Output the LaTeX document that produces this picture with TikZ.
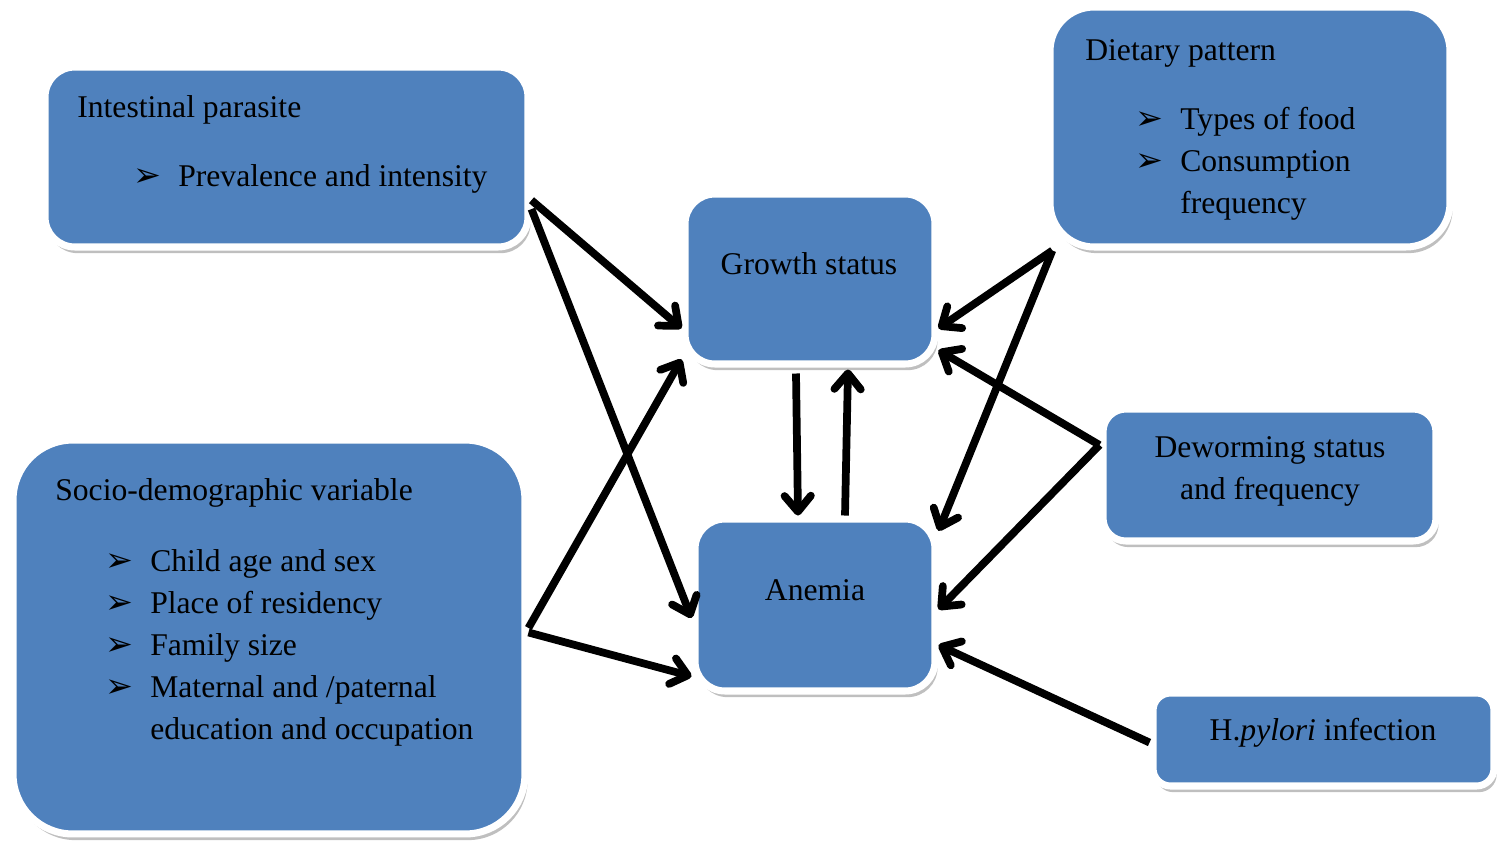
\documentclass[tikz,border=0pt]{standalone}
\usepackage{fontspec}
\setmainfont{Liberation Serif}
\newfontfamily\dingfont{DejaVu Sans}
\usetikzlibrary{arrows.meta,shadows,calc}

\definecolor{boxblue}{HTML}{4F81BD}
\newcommand{\bul}{\makebox[25.6pt][l]{\dingfont\fontsize{19pt}{19pt}\selectfont ➢}}

\begin{document}
\begin{tikzpicture}[x=0.02cm,y=-0.02cm,
  box/.style={draw=white, line width=4pt, fill=boxblue, inner sep=0pt,
    drop shadow={shadow xshift=1.5pt, shadow yshift=-3.5pt, opacity=0.25, fill=black}},
  txt/.style={font=\fontsize{18pt}{23.8pt}\selectfont, inner sep=0pt},
  link/.style={-{Straight Barb[length=9pt,width=15pt,round]}, line width=4.4pt}]
\useasboundingbox (0,0) rectangle (1505,840);

% boxes
\node[box, rounded corners=17pt, minimum width=9.66cm, minimum height=3.6cm] (ip) at (286.5,157) {};
\node[box, rounded corners=17pt, minimum width=5cm, minimum height=3.4cm] (gs) at (810,279) {};
\node[box, rounded corners=25pt, minimum width=8cm, minimum height=4.8cm] (dp) at (1250,127) {};
\node[box, rounded corners=34pt, minimum width=10.24cm, minimum height=7.88cm] (sd) at (269,637) {};
\node[box, rounded corners=17pt, minimum width=4.8cm, minimum height=3.44cm] (an) at (815,605) {};
\node[box, rounded corners=13pt, minimum width=6.66cm, minimum height=2.64cm] (dw) at (1269.5,475) {};
\node[box, rounded corners=10pt, minimum width=6.82cm, minimum height=1.86cm] (hp) at (1323.5,739.5) {};

% texts (multi-line nodes sit on their last baseline)
\node[txt, anchor=base west] (iptitle) at (77,117) {Intestinal parasite};
\node[txt, anchor=base west] (iplist) at (133,186) {\bul Prevalence and intensity};
\node[txt, anchor=base] (gstext) at (809,274) {Growth status};
\node[txt, anchor=base west] (dptitle) at (1085,60) {Dietary pattern};
\node[txt, anchor=base west, align=left] (dplist) at (1135,213)
  {\bul Types of food\\ \bul Consumption\\ \hspace*{25.6pt}frequency};
\node[txt, anchor=base west] (sdtitle) at (55,500) {Socio-demographic variable};
\node[txt, anchor=base west, align=left] (sdlist) at (105,739)
  {\bul Child age and sex\\ \bul Place of residency\\ \bul Family size\\
   \bul Maternal and /paternal\\ \hspace*{25.6pt}education and occupation};
\node[txt, anchor=base] (antext) at (815,600) {Anemia};
\node[txt, anchor=base, align=center] (dwtext) at (1270,499) {Deworming status\\ and frequency};
\node[txt, anchor=base] (hptext) at (1323,740) {H.\textit{pylori} infection};

% connectors
\draw[link] (ip.-10) -- (gs.201);
\draw[link] (ip.-12) -- (an.186);
\draw[link] (sd.2) -- (gs.212);
\draw[link] (sd.1) -- (an.210);
\draw[link] ($(gs.south)+(-14,6)$) -- ($(an.north)+(-17,0)$);
\draw[link] ($(an.north)+(30,0)$) -- ($(gs.south)+(38,2)$);
\draw[link] (dp.212) -- (gs.-21);
\draw[link] (dp.212) -- (an.31);
\draw[link] (dw.170) -- (gs.-29);
\draw[link] (dw.170) -- (an.-2);
\draw[link] (hp.181) -- (an.-18);
\end{tikzpicture}
\end{document}
